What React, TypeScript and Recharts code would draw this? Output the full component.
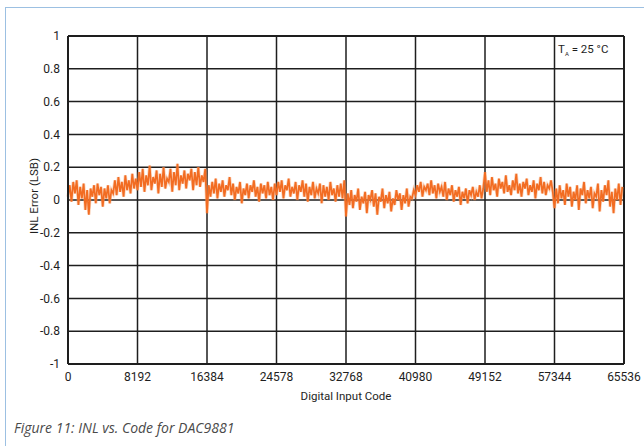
import React from "react";
import {
  LineChart,
  Line,
  XAxis,
  YAxis,
  CartesianGrid,
  ReferenceLine,
  Label,
} from "recharts";

const codeTicks = [0, 8192, 16384, 24576, 32768, 40960, 49152, 57344, 65536];
// labels as printed in the original figure (including its typos)
const codeTickLabels = ["0", "8192", "16384", "24578", "32768", "40980", "49152", "57344", "65536"];
const inlTicks = [-1, -0.8, -0.6, -0.4, -0.2, 0, 0.2, 0.4, 0.6, 0.8, 1];
const inlTickLabels = ["-1", "-0.8", "-0.6", "-0.4", "-0.2", "0", "0.2", "0.4", "0.6", "0.8", "1"];

// INL error (LSB), one array per 8192-code block
const seg1 = [0.02, 0.09, -0.01, 0.11, 0.04, 0.12, -0.03, 0.08, 0.01, 0.1, -0.06, 0.06, -0.09, 0.07, 0.02, 0.09, -0.02, 0.1, 0.03, 0.08, -0.04, 0.07, 0.01, 0.09, -0.02, 0.06, 0.04, 0.12, 0.03, 0.14, 0.05, 0.11, 0.02, 0.15, 0.06, 0.12, 0.04, 0.16, 0.07, 0.13];
const seg2 = [0.06, 0.17, 0.08, 0.19, 0.05, 0.15, 0.09, 0.21, 0.06, 0.14, 0.1, 0.18, 0.04, 0.16, 0.08, 0.2, 0.07, 0.13, 0.11, 0.19, 0.05, 0.17, 0.09, 0.22, 0.06, 0.15, 0.1, 0.18, 0.07, 0.16, 0.12, 0.19, 0.06, 0.17, 0.09, 0.2, 0.08, 0.15, 0.11, 0.19];
const seg3 = [-0.08, 0.09, 0.02, 0.11, 0.04, 0.13, 0.01, 0.1, 0.05, 0.12, 0.02, 0.09, 0.06, 0.14, 0.03, 0.1, 0.0, 0.08, 0.04, 0.11, -0.02, 0.07, 0.03, 0.1, 0.01, 0.09, 0.05, 0.12, 0.02, 0.08, -0.01, 0.1, 0.04, 0.09, 0.01, 0.11, 0.03, 0.08, 0.0, 0.1];
const seg4 = [0.03, 0.11, 0.05, 0.12, 0.01, 0.09, 0.06, 0.13, 0.02, 0.08, 0.04, 0.11, 0.0, 0.09, 0.05, 0.12, 0.02, 0.1, -0.01, 0.08, 0.03, 0.11, 0.01, 0.07, 0.04, 0.1, -0.02, 0.09, 0.02, 0.08, 0.0, 0.11, 0.03, 0.07, -0.01, 0.09, 0.02, 0.1, 0.01, 0.12];
const seg5 = [-0.1, 0.04, -0.03, 0.06, -0.05, 0.03, -0.01, 0.07, -0.06, 0.02, -0.02, 0.05, -0.08, 0.03, 0.0, 0.06, -0.04, 0.04, -0.09, 0.02, -0.01, 0.07, -0.05, 0.03, -0.02, 0.05, -0.07, 0.01, -0.03, 0.06, 0.0, 0.04, -0.06, 0.03, -0.02, 0.07, -0.04, 0.02, 0.01, 0.06];
const seg6 = [0.03, 0.09, 0.05, 0.11, 0.02, 0.08, 0.06, 0.1, 0.03, 0.12, 0.04, 0.09, 0.01, 0.1, 0.05, 0.08, 0.02, 0.11, 0.0, 0.07, 0.03, 0.09, -0.01, 0.06, 0.02, 0.08, -0.03, 0.05, 0.01, 0.07, -0.02, 0.06, 0.03, 0.08, 0.0, 0.05, 0.02, 0.09, 0.01, 0.07];
const seg7 = [0.17, 0.05, 0.12, 0.03, 0.14, 0.06, 0.1, 0.02, 0.13, 0.07, 0.11, 0.04, 0.15, 0.05, 0.09, 0.03, 0.12, 0.06, 0.16, 0.04, 0.1, 0.02, 0.11, 0.07, 0.13, 0.03, 0.09, 0.05, 0.12, 0.01, 0.1, 0.06, 0.14, 0.04, 0.11, 0.03, 0.09, 0.07, 0.12, 0.05];
const seg8 = [-0.05, 0.07, -0.02, 0.09, 0.01, 0.06, -0.03, 0.1, 0.02, 0.08, -0.04, 0.05, 0.0, 0.09, -0.06, 0.07, 0.03, 0.11, -0.02, 0.06, 0.01, 0.08, -0.05, 0.04, 0.02, 0.1, -0.07, 0.06, -0.01, 0.09, 0.03, 0.12, -0.04, 0.05, -0.08, 0.07, 0.0, 0.1, -0.03, 0.08];

const BLOCK = 8192;
const segments = [seg1, seg2, seg3, seg4, seg5, seg6, seg7, seg8];

const chartdata = segments.flatMap((seg, s) =>
  seg.map((inl, i) => ({ code: s * BLOCK + (i * BLOCK) / seg.length, inl }))
);

const font = "Roboto, 'Open Sans', sans-serif";
const ink = "#1e1e1e";

export default function App() {
  return (
    <div style={{ position: "absolute", left: 0, top: 0, width: 644, height: 446, background: "#fff" }}>
      {/* light blue frame */}
      <div
        style={{
          position: "absolute",
          left: 5,
          top: 7,
          width: 639,
          height: 439,
          borderTop: "1.5px solid #9cc0e2",
          borderLeft: "1.5px solid #9cc0e2",
        }}
      />
      <LineChart
        width={644}
        height={446}
        data={chartdata}
        margin={{ top: 36, right: 20, bottom: 46, left: 0 }}
        style={{ position: "absolute", left: 0, top: 0 }}
      >
        <CartesianGrid stroke={ink} strokeWidth={1.5} />
        <XAxis
          dataKey="code"
          type="number"
          domain={[0, 65536]}
          ticks={codeTicks}
          tickFormatter={v => codeTickLabels[codeTicks.indexOf(v)]}
          axisLine={{ stroke: ink, strokeWidth: 2 }}
          tickLine={false}
          tick={{ fill: ink, fontSize: 12, fontFamily: font }}
          height={36}
        >
          <Label
            value="Digital Input Code"
            position="insideBottom"
            offset={0}
            style={{ fill: ink, fontSize: 11.5, fontFamily: font }}
          />
        </XAxis>
        <YAxis
          type="number"
          domain={[-1, 1]}
          ticks={inlTicks}
          tickFormatter={v => inlTickLabels[inlTicks.indexOf(v)]}
          axisLine={{ stroke: ink, strokeWidth: 2 }}
          tickLine={false}
          tick={{ fill: ink, fontSize: 12, fontFamily: font }}
          width={68}
          interval={0}
        >
          <Label
            value="INL Error (LSB)"
            position="center"
            angle={-90}
            dy={-4}
            style={{ fill: ink, fontSize: 11.5, fontFamily: font, textAnchor: "middle" }}
          />
        </YAxis>
        <ReferenceLine y={1} stroke={ink} strokeWidth={2} />
        <ReferenceLine x={65536} stroke={ink} strokeWidth={2} />
        {/* soft halo under the noisy trace */}
        <Line
          dataKey="inl"
          type="linear"
          stroke="#f59a62"
          strokeOpacity={0.45}
          strokeWidth={3.2}
          dot={false}
          isAnimationActive={false}
        />
        <Line
          dataKey="inl"
          type="linear"
          stroke="#f26c22"
          strokeWidth={1.7}
          dot={false}
          isAnimationActive={false}
        />
      </LineChart>
      <div
        style={{
          position: "absolute",
          left: 558,
          top: 42,
          fontFamily: font,
          fontSize: 11.5,
          color: ink,
          whiteSpace: "nowrap",
        }}
      >
        T<sub style={{ fontSize: 6 }}>A</sub> = 25 °C
      </div>
      <div
        style={{
          position: "absolute",
          left: 14,
          top: 418,
          fontFamily: "'Open Sans', sans-serif",
          fontStyle: "italic",
          fontSize: 14,
          color: "#4a4a4a",
          whiteSpace: "nowrap",
        }}
      >
        Figure 11: INL vs. Code for DAC9881
      </div>
    </div>
  );
}
